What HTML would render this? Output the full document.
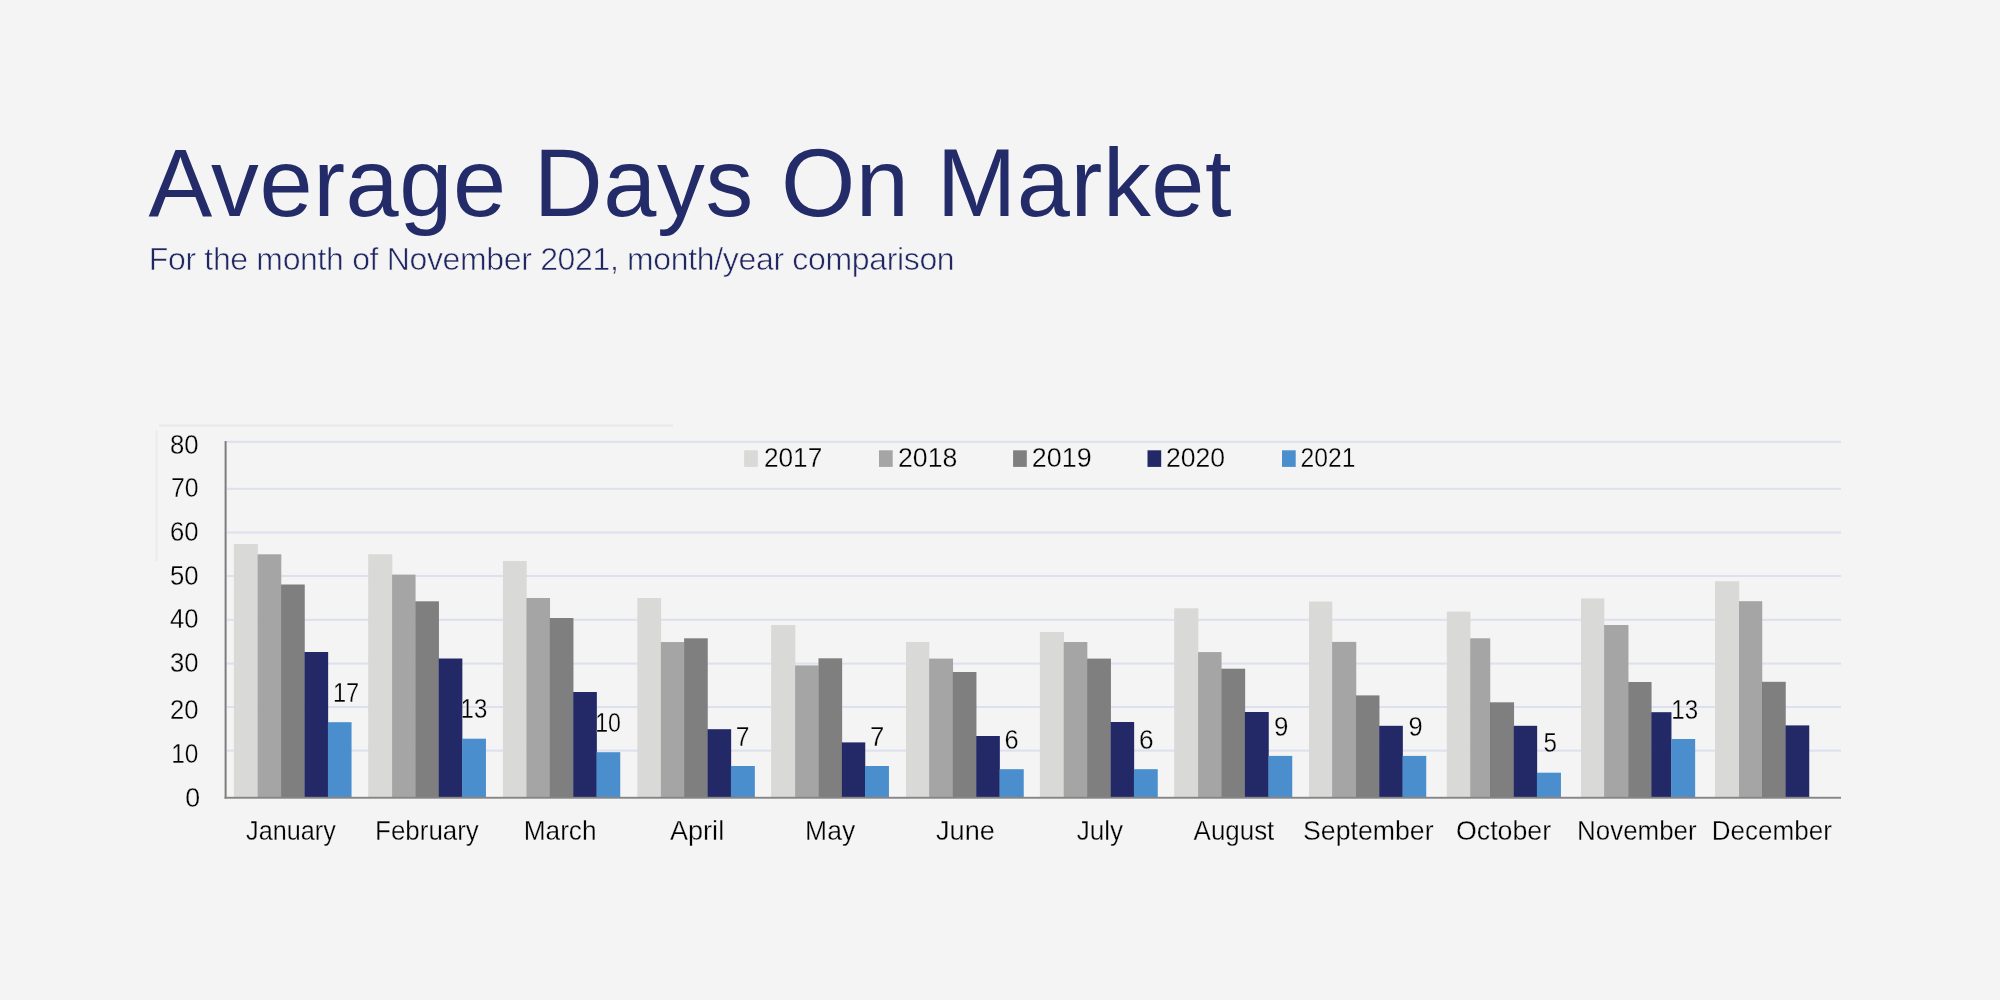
<!DOCTYPE html>
<html><head><meta charset="utf-8"><title>Average Days On Market</title>
<style>
html,body{margin:0;padding:0;}
body{width:2000px;height:1000px;background:#f4f4f4;position:relative;overflow:hidden;font-family:"Liberation Sans",sans-serif;}
svg{position:absolute;left:0;top:0;will-change:transform;}
text{font-family:"Liberation Sans",sans-serif;}
.ti{font-size:95.5px;fill:#232c69;}
.su{font-size:32px;fill:#1f2661;stroke:#f4f4f4;stroke-width:0.6px;stroke-linejoin:round;}
.t{font-size:27.6px;fill:#000;stroke:#f4f4f4;stroke-width:0.3px;stroke-linejoin:round;}
</style></head><body>
<svg width="2000" height="1000" viewBox="0 0 2000 1000">
<defs><filter id="sb" x="-50%" y="-50%" width="200%" height="200%"><feGaussianBlur stdDeviation="0.7"/></filter></defs>
<rect x="159" y="424.4" width="514" height="2.2" fill="#e9e9e9" filter="url(#sb)"/>
<rect x="155.6" y="430" width="2" height="131" fill="#ececec" filter="url(#sb)"/>
<rect x="227" y="440.80" width="1614" height="2" fill="#dde0ee"/>
<rect x="227" y="487.80" width="1614" height="2" fill="#dde0ee"/>
<rect x="227" y="531.50" width="1614" height="2" fill="#dde0ee"/>
<rect x="227" y="575.00" width="1614" height="2" fill="#dde0ee"/>
<rect x="227" y="618.80" width="1614" height="2" fill="#dde0ee"/>
<rect x="227" y="662.60" width="1614" height="2" fill="#dde0ee"/>
<rect x="227" y="706.00" width="1614" height="2" fill="#dde0ee"/>
<rect x="227" y="749.60" width="1614" height="2" fill="#dde0ee"/>
<rect x="233.85" y="544.00" width="24.00" height="253.00" fill="#d9d9d7"/>
<rect x="257.60" y="554.30" width="23.70" height="242.70" fill="#a6a5a6"/>
<rect x="281.05" y="584.50" width="23.70" height="212.50" fill="#7f7f7f"/>
<rect x="304.50" y="652.00" width="23.65" height="145.00" fill="#222966"/>
<rect x="327.90" y="722.20" width="23.65" height="74.80" fill="#4a8ecd"/>
<rect x="368.20" y="554.30" width="24.15" height="242.70" fill="#d9d9d7"/>
<rect x="392.10" y="574.60" width="23.45" height="222.40" fill="#a6a5a6"/>
<rect x="415.30" y="601.30" width="23.65" height="195.70" fill="#7f7f7f"/>
<rect x="438.70" y="658.50" width="23.65" height="138.50" fill="#222966"/>
<rect x="462.10" y="738.70" width="23.85" height="58.30" fill="#4a8ecd"/>
<rect x="502.95" y="561.05" width="23.70" height="235.95" fill="#d9d9d7"/>
<rect x="526.40" y="598.00" width="23.65" height="199.00" fill="#a6a5a6"/>
<rect x="549.80" y="618.00" width="23.65" height="179.00" fill="#7f7f7f"/>
<rect x="573.20" y="692.00" width="23.65" height="105.00" fill="#222966"/>
<rect x="596.60" y="752.20" width="23.65" height="44.80" fill="#4a8ecd"/>
<rect x="637.30" y="598.00" width="23.85" height="199.00" fill="#d9d9d7"/>
<rect x="660.90" y="642.05" width="23.45" height="154.95" fill="#a6a5a6"/>
<rect x="684.10" y="638.30" width="23.65" height="158.70" fill="#7f7f7f"/>
<rect x="707.50" y="729.20" width="23.65" height="67.80" fill="#222966"/>
<rect x="730.90" y="766.00" width="23.95" height="31.00" fill="#4a8ecd"/>
<rect x="771.15" y="625.10" width="24.20" height="171.90" fill="#d9d9d7"/>
<rect x="795.10" y="665.40" width="23.65" height="131.60" fill="#a6a5a6"/>
<rect x="818.50" y="658.30" width="23.65" height="138.70" fill="#7f7f7f"/>
<rect x="841.90" y="742.40" width="23.35" height="54.60" fill="#222966"/>
<rect x="865.00" y="766.00" width="23.95" height="31.00" fill="#4a8ecd"/>
<rect x="906.00" y="642.00" width="23.35" height="155.00" fill="#d9d9d7"/>
<rect x="929.10" y="658.60" width="23.95" height="138.40" fill="#a6a5a6"/>
<rect x="952.80" y="672.00" width="23.65" height="125.00" fill="#7f7f7f"/>
<rect x="976.20" y="736.00" width="23.65" height="61.00" fill="#222966"/>
<rect x="999.60" y="769.20" width="24.15" height="27.80" fill="#4a8ecd"/>
<rect x="1039.90" y="632.00" width="24.05" height="165.00" fill="#d9d9d7"/>
<rect x="1063.70" y="642.00" width="23.65" height="155.00" fill="#a6a5a6"/>
<rect x="1087.10" y="658.60" width="23.85" height="138.40" fill="#7f7f7f"/>
<rect x="1110.70" y="722.00" width="23.45" height="75.00" fill="#222966"/>
<rect x="1133.90" y="769.20" width="23.85" height="27.80" fill="#4a8ecd"/>
<rect x="1174.20" y="608.30" width="24.15" height="188.70" fill="#d9d9d7"/>
<rect x="1198.10" y="652.10" width="23.45" height="144.90" fill="#a6a5a6"/>
<rect x="1221.30" y="668.70" width="23.85" height="128.30" fill="#7f7f7f"/>
<rect x="1244.90" y="712.00" width="23.85" height="85.00" fill="#222966"/>
<rect x="1268.50" y="755.90" width="23.75" height="41.10" fill="#4a8ecd"/>
<rect x="1309.00" y="601.50" width="23.35" height="195.50" fill="#d9d9d7"/>
<rect x="1332.10" y="641.90" width="24.15" height="155.10" fill="#a6a5a6"/>
<rect x="1356.00" y="695.40" width="23.45" height="101.60" fill="#7f7f7f"/>
<rect x="1379.20" y="725.80" width="23.65" height="71.20" fill="#222966"/>
<rect x="1402.60" y="755.90" width="23.65" height="41.10" fill="#4a8ecd"/>
<rect x="1446.80" y="611.60" width="23.65" height="185.40" fill="#d9d9d7"/>
<rect x="1470.20" y="638.30" width="20.05" height="158.70" fill="#a6a5a6"/>
<rect x="1490.00" y="702.30" width="24.05" height="94.70" fill="#7f7f7f"/>
<rect x="1513.80" y="725.80" width="23.35" height="71.20" fill="#222966"/>
<rect x="1536.90" y="772.70" width="24.05" height="24.30" fill="#4a8ecd"/>
<rect x="1581.00" y="598.40" width="23.35" height="198.60" fill="#d9d9d7"/>
<rect x="1604.10" y="625.00" width="24.35" height="172.00" fill="#a6a5a6"/>
<rect x="1628.20" y="682.00" width="23.35" height="115.00" fill="#7f7f7f"/>
<rect x="1651.30" y="712.20" width="20.15" height="84.80" fill="#222966"/>
<rect x="1671.20" y="739.00" width="23.95" height="58.00" fill="#4a8ecd"/>
<rect x="1715.00" y="581.30" width="24.25" height="215.70" fill="#d9d9d7"/>
<rect x="1739.00" y="601.20" width="23.25" height="195.80" fill="#a6a5a6"/>
<rect x="1762.00" y="681.80" width="23.75" height="115.20" fill="#7f7f7f"/>
<rect x="1785.50" y="725.40" width="23.75" height="71.60" fill="#222966"/>
<rect x="224.6" y="441" width="2" height="357.6" fill="#7d7d7d"/>
<rect x="224.6" y="796.8" width="1616.4" height="1.9" fill="#858585"/>
<rect x="744.15" y="450.3" width="13.7" height="16.6" fill="#d9d9d7"/>
<rect x="879.00" y="450.3" width="13.7" height="16.6" fill="#a6a5a6"/>
<rect x="1013.10" y="450.3" width="13.7" height="16.6" fill="#7f7f7f"/>
<rect x="1147.50" y="450.3" width="13.7" height="16.6" fill="#222966"/>
<rect x="1282.00" y="450.3" width="13.7" height="16.6" fill="#4a8ecd"/>
<text x="148.50" y="215.70" class="ti" letter-spacing="0.60">Average Days On Market</text>
<text x="148.80" y="270.00" class="su" letter-spacing="-0.34">For the month of November 2021, month/year comparison</text>
<text transform="translate(247.00,840.00) scale(0.9134,1)" x="-1" y="0" class="t">January</text>
<text transform="translate(377.00,840.00) scale(0.9389,1)" x="-2" y="0" class="t">February</text>
<text transform="translate(525.60,840.00) scale(0.9507,1)" x="-2" y="0" class="t">March</text>
<text transform="translate(670.00,840.00) scale(0.9811,1)" x="0" y="0" class="t">April</text>
<text transform="translate(807.00,840.00) scale(0.9600,1)" x="-2" y="0" class="t">May</text>
<text transform="translate(937.00,840.00) scale(0.9828,1)" x="-1" y="0" class="t">June</text>
<text transform="translate(1077.60,840.00) scale(0.9458,1)" x="-1" y="0" class="t">July</text>
<text transform="translate(1193.60,840.00) scale(0.9395,1)" x="0" y="0" class="t">August</text>
<text transform="translate(1305.00,840.00) scale(0.9669,1)" x="-2" y="0" class="t">September</text>
<text transform="translate(1457.00,840.00) scale(0.9691,1)" x="-1" y="0" class="t">October</text>
<text transform="translate(1579.00,840.00) scale(0.9392,1)" x="-2" y="0" class="t">November</text>
<text transform="translate(1713.60,840.00) scale(0.9440,1)" x="-2" y="0" class="t">December</text>
<text transform="translate(764.90,467.00) scale(0.9508,1)" x="-1" y="0" class="t">2017</text>
<text transform="translate(899.00,467.00) scale(0.9661,1)" x="-1" y="0" class="t">2018</text>
<text transform="translate(1032.75,467.00) scale(0.9746,1)" x="-1" y="0" class="t">2019</text>
<text transform="translate(1166.90,467.00) scale(0.9636,1)" x="-1" y="0" class="t">2020</text>
<text transform="translate(1301.50,467.00) scale(0.8941,1)" x="-1" y="0" class="t">2021</text>
<text transform="translate(171.00,453.70) scale(0.9310,1)" x="-1" y="0" class="t">80</text>
<text transform="translate(172.00,497.00) scale(0.8966,1)" x="-1" y="0" class="t">70</text>
<text transform="translate(171.00,541.00) scale(0.9310,1)" x="-1" y="0" class="t">60</text>
<text transform="translate(171.00,585.00) scale(0.9310,1)" x="-1" y="0" class="t">50</text>
<text transform="translate(170.90,628.00) scale(0.9276,1)" x="-1" y="0" class="t">40</text>
<text transform="translate(170.90,672.00) scale(0.9276,1)" x="-1" y="0" class="t">30</text>
<text transform="translate(170.90,719.00) scale(0.9276,1)" x="-1" y="0" class="t">20</text>
<text transform="translate(173.00,762.60) scale(0.8857,1)" x="-2" y="0" class="t">10</text>
<text transform="translate(186.20,806.70) scale(0.9692,1)" x="-1" y="0" class="t">0</text>
<text transform="translate(334.60,701.90) scale(0.8556,1)" x="-2" y="0" class="t">17</text>
<text transform="translate(462.30,718.40) scale(0.8704,1)" x="-2" y="0" class="t">13</text>
<text transform="translate(596.90,731.90) scale(0.8393,1)" x="-2" y="0" class="t">10</text>
<text transform="translate(736.70,745.70) scale(0.8923,1)" x="-1" y="0" class="t">7</text>
<text transform="translate(870.90,745.70) scale(0.9308,1)" x="-1" y="0" class="t">7</text>
<text transform="translate(1005.40,748.90) scale(0.9231,1)" x="-1" y="0" class="t">6</text>
<text transform="translate(1140.00,748.90) scale(0.9538,1)" x="-1" y="0" class="t">6</text>
<text transform="translate(1275.00,735.60) scale(0.9385,1)" x="-1" y="0" class="t">9</text>
<text transform="translate(1409.30,735.60) scale(0.9231,1)" x="-1" y="0" class="t">9</text>
<text transform="translate(1544.30,752.40) scale(0.8769,1)" x="-1" y="0" class="t">5</text>
<text transform="translate(1673.00,718.70) scale(0.8741,1)" x="-2" y="0" class="t">13</text>
</svg>
</body></html>
